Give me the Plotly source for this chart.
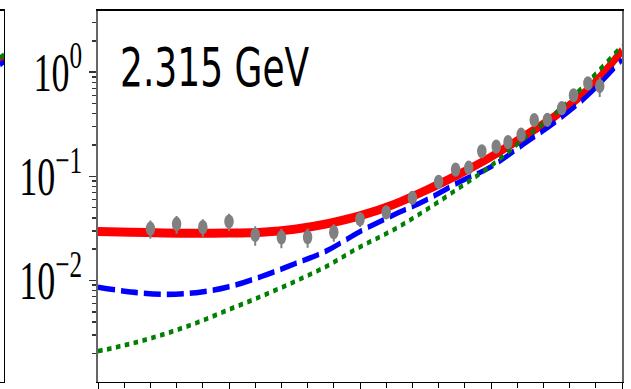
import plotly.graph_objects as go

# Panel label
energy_label = "2.315 GeV"

# Measured differential cross section vs cos(theta)
cos_theta = [-0.8, -0.7, -0.6, -0.5, -0.4, -0.3, -0.2, -0.1, 0.0, 0.1, 0.2, 0.3,
             0.365, 0.415, 0.465, 0.52, 0.565, 0.615, 0.665, 0.715, 0.77, 0.815, 0.87, 0.915]
dsigma = [0.0314, 0.0349, 0.0325, 0.0368, 0.0274, 0.0259, 0.0261, 0.0291, 0.0387, 0.0451,
          0.0622, 0.0885, 0.116, 0.121, 0.174, 0.193, 0.213, 0.251, 0.347, 0.349,
          0.451, 0.600, 0.780, 0.736]
dsigma_err = [0.0062, 0.0068, 0.0062, 0.0070, 0.0058, 0.0055, 0.0055, 0.0055, 0.0060, 0.0060,
              0.0070, 0.0090, 0.011, 0.012, 0.016, 0.018, 0.020, 0.024, 0.032, 0.032,
              0.042, 0.055, 0.070, 0.16]

# Model curves on a common cos(theta) grid
cos_grid = [-1.0, -0.875, -0.75, -0.625, -0.5, -0.375, -0.25, -0.125, 0.0,
            0.125, 0.25, 0.375, 0.5, 0.625, 0.75, 0.875, 1.0]
model_full = [0.0296, 0.0291, 0.0286, 0.0284, 0.0285, 0.0291, 0.0311, 0.0351, 0.0418,
              0.0532, 0.0731, 0.1038, 0.1538, 0.2415, 0.387, 0.70, 1.61]
model_dashed = [0.00861, 0.00777, 0.00736, 0.00764, 0.00871, 0.01096, 0.01442, 0.0194, 0.0295,
                0.0422, 0.0587, 0.0871, 0.1236, 0.204, 0.339, 0.617, 1.32]
model_dotted = [0.002094, 0.00247, 0.00304, 0.00391, 0.00526, 0.00708, 0.00973, 0.0138, 0.021,
                0.0304, 0.0472, 0.0764, 0.1264, 0.2286, 0.413, 0.834, 1.80]

# Edge of the neighbouring panel (its forward-angle end)
left_cos = [0.9, 1.0]
left_full = [1.30, 1.38]
left_dashed = [1.18, 1.26]
left_dotted = [1.38, 1.47]

# Log-axis tick labels
ytick_vals = [1e-2, 1e-1, 1e0]
ytick_text = ["10<sup>\u22122</sup>", "10<sup>\u22121</sup>", "10<sup>0</sup>"]
ymin_minor = [k * 10.0 ** p for p in (-3, -2, -1, 0) for k in range(2, 10)]

STRETCH = 1.502          # vertical aspect of the final figure
W, H = 631, 259
YRANGE = [-2.970, 0.592]

RED, BLUE, GREEN, GREY = "#ff0000", "#0000ff", "#008000", "#808080"

fig = go.Figure()

# neighbouring panel
fig.add_trace(go.Scatter(x=left_cos, y=left_full, mode="lines", xaxis="x2", yaxis="y2",
                         line=dict(color=RED, width=6), showlegend=False))
fig.add_trace(go.Scatter(x=left_cos, y=left_dashed, mode="lines", xaxis="x2", yaxis="y2",
                         line=dict(color=BLUE, width=3.7, dash="17px,6px"), showlegend=False))
fig.add_trace(go.Scatter(x=left_cos, y=left_dotted, mode="lines", xaxis="x2", yaxis="y2",
                         line=dict(color=GREEN, width=3.2, dash="4.5px,4.5px"), showlegend=False))

# main panel
fig.add_trace(go.Scatter(x=cos_grid, y=model_full, mode="lines", line_shape="spline",
                         line=dict(color=RED, width=6), showlegend=False))
fig.add_trace(go.Scatter(x=cos_grid, y=model_dashed, mode="lines", line_shape="spline",
                         line=dict(color=BLUE, width=3.7, dash="17px,6px"), showlegend=False))
fig.add_trace(go.Scatter(x=cos_grid, y=model_dotted, mode="lines", line_shape="spline",
                         line=dict(color=GREEN, width=3.2, dash="4.5px,4.5px"), showlegend=False))
fig.add_trace(go.Scatter(x=cos_theta, y=dsigma, mode="markers",
                         marker=dict(color=GREY, size=9.5, line=dict(width=0)),
                         error_y=dict(type="data", array=dsigma_err, visible=True,
                                      color=GREY, thickness=2, width=0),
                         showlegend=False))

fig.add_annotation(text=energy_label, xref="paper", yref="paper",
                   x=118 / 622, y=0.8476, xanchor="left", yanchor="middle",
                   showarrow=False, font=dict(family="DejaVu Sans", size=36, color="black"))

fig.update_layout(
    width=W, height=H,
    margin=dict(l=0, r=9, t=7, b=3, pad=0),
    paper_bgcolor="white", plot_bgcolor="white",
    showlegend=False,
    xaxis=dict(domain=[98 / 622, 1], anchor="y", range=[-1, 1],
               showline=True, linecolor="black", linewidth=1, mirror=True,
               showgrid=False, zeroline=False, showticklabels=False,
               ticks="outside", tickmode="array", tickvals=[-1, -0.5, 0, 0.5, 1],
               ticklen=5, tickwidth=1, tickcolor="black",
               minor=dict(ticks="outside", ticklen=3, tickwidth=1, tickcolor="black",
                          tick0=-1, dtick=0.1, showgrid=False)),
    yaxis=dict(type="log", domain=[0, 1], anchor="x", range=YRANGE,
               showline=True, linecolor="#666666", linewidth=1.5, mirror=True,
               showgrid=False, zeroline=False,
               ticks="outside", tickmode="array", tickvals=ytick_vals, ticktext=ytick_text,
               ticklen=7, tickwidth=1, tickcolor="#333333",
               tickfont=dict(family="Liberation Serif", size=36, color="black"),
               minor=dict(ticks="outside", ticklen=4, tickwidth=1, tickcolor="#333333",
                          tickmode="array", tickvals=ymin_minor, showgrid=False)),
    xaxis2=dict(domain=[0, 4 / 622], anchor="y2", range=[0.9, 1.0],
                showline=True, linecolor="black", linewidth=1, mirror=True,
                showgrid=False, zeroline=False, showticklabels=False, ticks=""),
    yaxis2=dict(type="log", domain=[0, 1], anchor="x2", side="right", range=YRANGE,
                showline=True, linecolor="black", linewidth=1.3,
                showgrid=False, zeroline=False, showticklabels=False, ticks=""),
)

stretch_js = (
    "var gd=document.getElementById('{plot_id}');"
    "document.body.style.margin='0';document.body.style.overflow='hidden';"
    "gd.style.transformOrigin='0 0';gd.style.transform='scaleY(%.4f)';" % STRETCH
)

fig.write_html("out.html", post_script=stretch_js)
